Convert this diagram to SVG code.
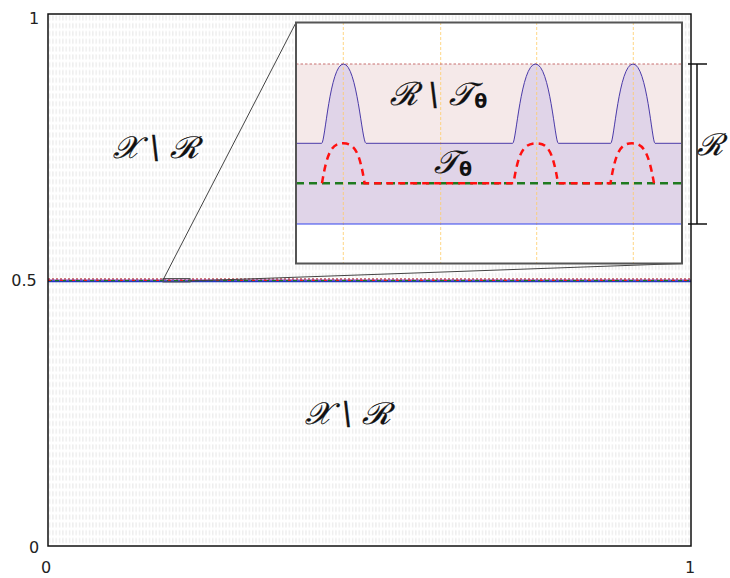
<svg xmlns="http://www.w3.org/2000/svg" width="730" height="578" viewBox="0 0 730 578">
<defs>
<pattern id="hatch" x="48" y="14" width="3.33" height="7.8" patternUnits="userSpaceOnUse">
<rect x="0.8" y="1.4" width="1.5" height="5" fill="#eeeeee"/>
</pattern>
<clipPath id="insetClip"><rect x="296" y="22.5" width="386" height="241"/></clipPath>
</defs>
<style>
.tick{font-family:"DejaVu Sans",sans-serif;font-size:16px;fill:#222}
.cal{font-family:"DejaVu Serif","Liberation Serif",serif;font-style:italic;fill:#111;stroke:#111;stroke-width:0.3}
.sub{font-family:"DejaVu Sans",sans-serif;font-style:normal;font-weight:bold;stroke:none}
.orange{stroke:#ffcc66;stroke-width:0.8;stroke-dasharray:3 2;fill:none}
.green{stroke:#1f7a1f;stroke-width:2.5;stroke-dasharray:8 5;fill:none}
.red{stroke:#ff1010;stroke-width:2.5;stroke-dasharray:7 5;fill:none}
.edge{stroke:#444;stroke-width:1;fill:none}
</style>
<rect width="730" height="578" fill="#fff"/>
<g id="plot">
<rect x="48" y="14" width="643" height="532" fill="url(#hatch)"/>
<rect x="48" y="278" width="643" height="4" fill="#fff"/>
<line x1="48" y1="279" x2="691" y2="279" stroke="#c05050" stroke-width="1.5" stroke-dasharray="2 2"/>
<line x1="48" y1="280.2" x2="691" y2="280.2" stroke="#8a3fa0" stroke-width="1.2"/>
<line x1="48" y1="281.4" x2="691" y2="281.4" stroke="#2233cc" stroke-width="1.6"/>
<line x1="48" y1="280.6" x2="691" y2="280.6" stroke="#1f7a1f" stroke-width="1.2" stroke-dasharray="4 3"/>
<line x1="48" y1="280.4" x2="691" y2="280.4" stroke="#ff1010" stroke-width="1" stroke-dasharray="3 9"/>
<rect x="163" y="278.5" width="27" height="3.5" fill="none" stroke="#555" stroke-width="1"/>
<rect x="48" y="14" width="643" height="532" fill="none" stroke="#111" stroke-width="1.5"/>
</g>
<g id="ticks">
<text class="tick" x="34" y="24" text-anchor="middle">1</text>
<text class="tick" x="24" y="286" text-anchor="middle">0.5</text>
<text class="tick" x="34" y="553" text-anchor="middle">0</text>
<text class="tick" x="46" y="573" text-anchor="middle">0</text>
<text class="tick" x="690" y="573" text-anchor="middle">1</text>
</g>
<g id="label-upper"><text class="cal" x="156" y="158" font-size="31" text-anchor="middle">𝒳 \ ℛ</text></g>
<g id="label-lower"><text class="cal" x="348" y="424" font-size="31" text-anchor="middle">𝒳 \ ℛ</text></g>
<g id="connectors">
<line class="edge" x1="296" y1="22.5" x2="163" y2="280"/>
<line class="edge" x1="682" y1="263.5" x2="190" y2="281"/>
</g>
<g id="inset">
<rect x="296" y="22.5" width="386" height="241" fill="#fff"/>
<g clip-path="url(#insetClip)">
<rect x="296" y="64" width="386" height="79.3" fill="#f5e9e9"/>
<path d="M296,143.3 L321.7,143.3 C325,143.3 330,64 343.5,64 C357,64 362,143.3 366,143.3 L512.7,143.3 C516,143.3 521,64 535.5,64 C550,64 555,143.3 558.3,143.3 L610.7,143.3 C614,143.3 619,64 633,64 C647,64 652,143.3 655,143.3 L682,143.3 L682,224 L296,224 Z" fill="#e0d4e8"/>
<line class="orange" x1="343.3" y1="22" x2="343.3" y2="264"/>
<line class="orange" x1="440.7" y1="22" x2="440.7" y2="264"/>
<line class="orange" x1="536.7" y1="22" x2="536.7" y2="264"/>
<line class="orange" x1="633.3" y1="22" x2="633.3" y2="264"/>
<line x1="296" y1="64" x2="682" y2="64" stroke="#c87070" stroke-width="1" stroke-dasharray="2.5 2"/>
<path d="M296,143.3 L321.7,143.3 C325,143.3 330,64 343.5,64 C357,64 362,143.3 366,143.3 L512.7,143.3 C516,143.3 521,64 535.5,64 C550,64 555,143.3 558.3,143.3 L610.7,143.3 C614,143.3 619,64 633,64 C647,64 652,143.3 655,143.3 L682,143.3" fill="none" stroke="#4a3aa8" stroke-width="1"/>
<line x1="296" y1="224" x2="682" y2="224" stroke="#3344ee" stroke-width="1.2"/>
<line class="green" x1="296" y1="183.3" x2="682" y2="183.3"/>
<path class="red" d="M322,183.3 C327,152 332,143.3 343.3,143.3 C354.6,143.3 359.6,152 364.6,183.3 L513.5,183.3 C518.5,152 523.5,143.3 536.7,143.3 C548,143.3 553,152 558,183.3 L610.5,183.3 C615.5,152 620.5,143.3 632,143.3 C643.5,143.3 648.5,152 654,183.3"/>
<text class="cal" x="390" y="105" font-size="32">ℛ \ 𝒯<tspan class="sub" font-size="19" dy="3">θ</tspan></text>
<text class="cal" x="434" y="173" font-size="32">𝒯<tspan class="sub" font-size="19" dy="3">θ</tspan></text>
</g>
<rect x="296" y="22.5" width="386" height="241" fill="none" stroke="#555" stroke-width="2"/>
</g>
<g id="bracket">
<line x1="697" y1="64" x2="697" y2="224" stroke="#111" stroke-width="1.5"/>
<line x1="688" y1="64" x2="707" y2="64" stroke="#111" stroke-width="1.5"/>
<line x1="688" y1="224" x2="707" y2="224" stroke="#111" stroke-width="1.5"/>
<text class="cal" x="723" y="155" font-size="30" text-anchor="end">ℛ</text>
</g>
</svg>
